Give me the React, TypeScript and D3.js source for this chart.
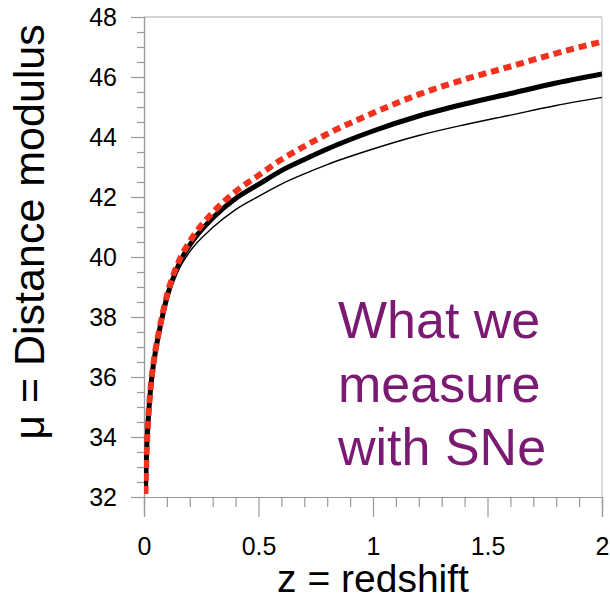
import React, { useRef, useEffect } from "react";
import * as d3 from "d3";

// redshift samples
const zValues = [0.006, 0.01, 0.015, 0.02, 0.03, 0.04, 0.05, 0.07, 0.1, 0.15, 0.2, 0.3, 0.4, 0.5, 0.6, 0.7, 0.8, 1.0, 1.2, 1.4, 1.6, 1.8, 2.0];
// thick black curve
const muThick = [32.1, 33.2, 34.1, 34.75, 35.7, 36.35, 36.85, 37.65, 38.65, 39.72, 40.4, 41.3, 41.95, 42.42, 42.88, 43.25, 43.6, 44.2, 44.7, 45.1, 45.45, 45.8, 46.1];
// thin black curve
const muThin = [32.1, 33.19, 34.08, 34.73, 35.67, 36.31, 36.79, 37.57, 38.55, 39.55, 40.18, 40.98, 41.58, 42.02, 42.43, 42.77, 43.08, 43.6, 44.05, 44.41, 44.73, 45.05, 45.32];
// red dashed curve
const muRed = [32.1, 33.21, 34.11, 34.77, 35.73, 36.38, 36.89, 37.7, 38.72, 39.82, 40.52, 41.48, 42.18, 42.72, 43.25, 43.69, 44.1, 44.8, 45.42, 45.92, 46.35, 46.79, 47.18];

const yMajor = [32, 34, 36, 38, 40, 42, 44, 46, 48];
const xMajor = [0, 0.5, 1, 1.5, 2];
const xLabels = ["0", "0.5", "1", "1.5", "2"];

const FONT = "'Liberation Sans', Arial, Helvetica, sans-serif";

export default function App() {
  const svgRef = useRef<SVGSVGElement | null>(null);

  useEffect(() => {
    const width = 610;
    const height = 601;
    const margin = { top: 17, right: 8, bottom: 104, left: 144 };
    const innerWidth = width - margin.left - margin.right;
    const innerHeight = height - margin.top - margin.bottom;

    const svg = d3.select(svgRef.current);
    svg.selectAll("*").remove();
    svg.attr("width", width).attr("height", height);

    const x = d3.scaleLinear().domain([0, 2]).range([0, innerWidth]);
    const y = d3.scaleLinear().domain([32, 48]).range([innerHeight, 0]);

    const defs = svg.append("defs");
    defs
      .append("clipPath")
      .attr("id", "plot-clip")
      .append("rect")
      .attr("width", innerWidth)
      .attr("height", innerHeight);

    const chart = svg
      .append("g")
      .attr("transform", `translate(${margin.left},${margin.top})`);

    /* ---------------- frame ---------------- */
    chart
      .append("line")
      .attr("x1", 0)
      .attr("x2", innerWidth)
      .attr("y1", 0)
      .attr("y2", 0)
      .attr("stroke", "#aaa");
    chart
      .append("line")
      .attr("x1", innerWidth)
      .attr("x2", innerWidth)
      .attr("y1", 0)
      .attr("y2", innerHeight)
      .attr("stroke", "#bbb");

    /* ---------------- axes ---------------- */
    const yMinor = d3.range(32, 48.01, 0.5).filter((v) => v % 2 !== 0);
    const yAxis = chart.append("g");
    yAxis.call(d3.axisLeft(y).tickValues(yMinor).tickSize(7).tickFormat(() => ""));
    yAxis.append("g").call(d3.axisLeft(y).tickValues(yMajor).tickSize(13).tickPadding(14).tickFormat(d3.format("d")));

    const xMinor = d3.range(0, 2.001, 0.1).filter((v) => Math.abs(v * 2 - Math.round(v * 2)) > 1e-6);
    const xAxis = chart.append("g").attr("transform", `translate(0,${innerHeight})`);
    xAxis.call(d3.axisBottom(x).tickValues(xMinor).tickSize(10).tickFormat(() => ""));
    xAxis
      .append("g")
      .call(d3.axisBottom(x).tickValues(xMajor).tickSize(20).tickPadding(20).tickFormat((d, i) => xLabels[i]));

    chart.selectAll(".domain").attr("stroke", "#999").attr("stroke-width", 1.2);
    chart.selectAll(".tick line").attr("stroke", "#999").attr("stroke-width", 1.2);
    chart
      .selectAll(".tick text")
      .attr("fill", "#000")
      .style("font-family", FONT)
      .style("font-size", "25px");

    /* ---------------- curves ---------------- */
    const line = d3
      .line<number>()
      .x((d, i) => x(zValues[i]))
      .y((d) => y(d))
      .curve(d3.curveMonotoneX);

    const curves = chart.append("g").attr("clip-path", "url(#plot-clip)");

    curves
      .append("path")
      .datum(muThin)
      .attr("fill", "none")
      .attr("stroke", "#000")
      .attr("stroke-width", 1.4)
      .attr("d", line);

    curves
      .append("path")
      .datum(muThick)
      .attr("fill", "none")
      .attr("stroke", "#000")
      .attr("stroke-width", 5)
      .attr("d", line);

    curves
      .append("path")
      .datum(muRed)
      .attr("fill", "none")
      .attr("stroke", "#f2321c")
      .attr("stroke-width", 6)
      .attr("stroke-dasharray", "8 5")
      .attr("d", line);

    /* ---------------- titles ---------------- */
    svg
      .append("text")
      .attr("transform", `translate(44,232) rotate(-90)`)
      .attr("text-anchor", "middle")
      .style("font-family", FONT)
      .style("font-size", "43px")
      .text("μ = Distance modulus");

    svg
      .append("text")
      .attr("x", margin.left + innerWidth / 2)
      .attr("y", 592)
      .attr("text-anchor", "middle")
      .style("font-family", FONT)
      .style("font-size", "39px")
      .text("z = redshift");

    const note = ["What we", "measure", "with SNe"];
    svg
      .append("g")
      .selectAll("text")
      .data(note)
      .enter()
      .append("text")
      .attr("x", 338)
      .attr("y", (d, i) => 338 + i * 63.5)
      .attr("fill", "#7a1a73")
      .style("font-family", FONT)
      .style("font-size", "52px")
      .text((d) => d);
  }, []);

  return (
    <div style={{ position: "absolute", left: 0, top: 0 }}>
      <svg ref={svgRef} style={{ display: "block" }} />
    </div>
  );
}
